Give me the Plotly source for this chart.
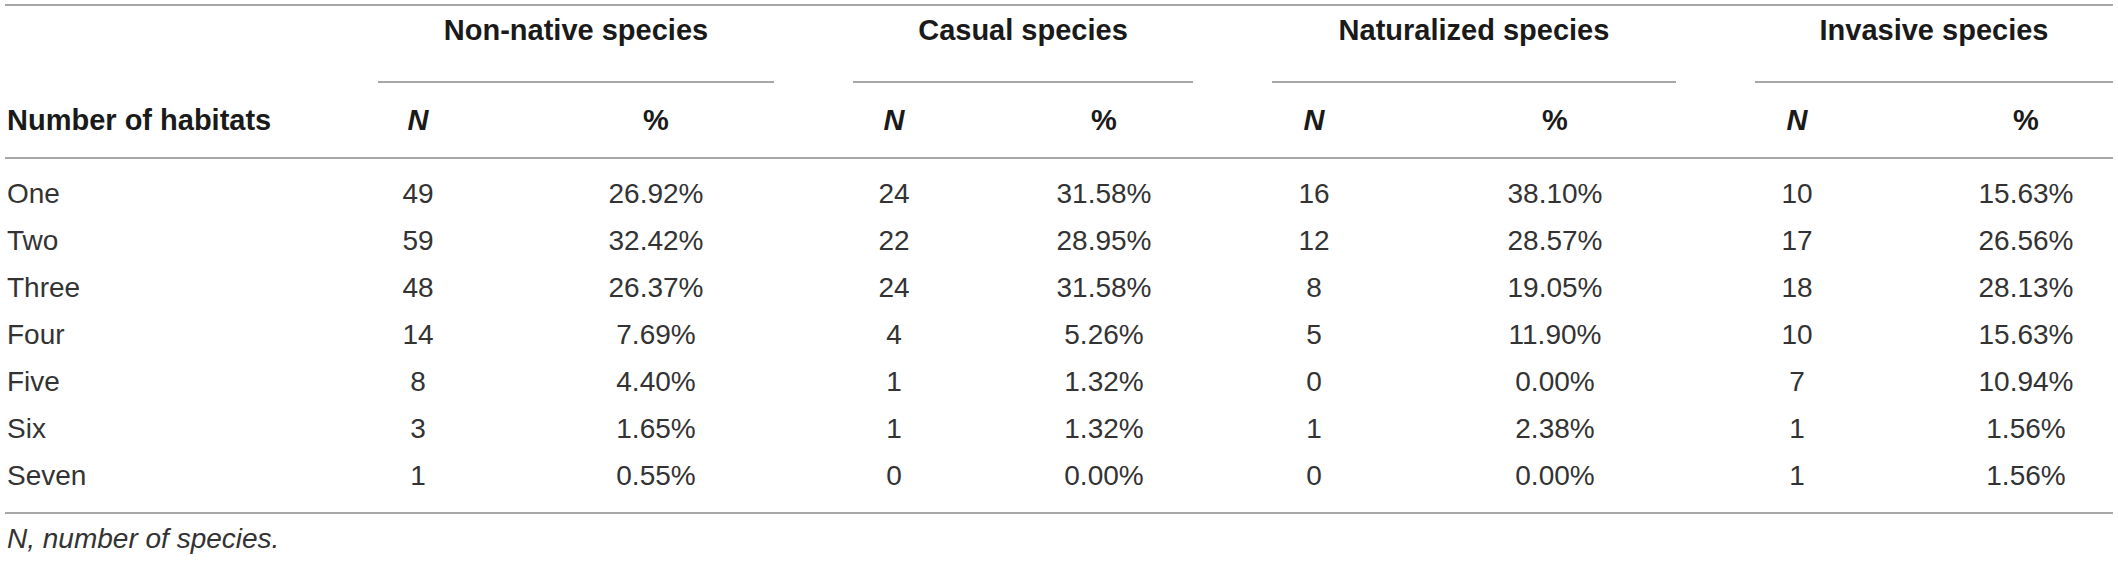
"""
habitats_table.py — Number of habitats occupied by non-native species, drawn as a table.
Output: out.html
"""

import plotly.graph_objects as go

W, H = 2118, 562

HABITATS = ["One", "Two", "Three", "Four", "Five", "Six", "Seven"]
GROUPS = ["Non-native species", "Casual species", "Naturalized species", "Invasive species"]

NONNATIVE_N = [49, 59, 48, 14, 8, 3, 1]
NONNATIVE_PCT = [26.92, 32.42, 26.37, 7.69, 4.40, 1.65, 0.55]
CASUAL_N = [24, 22, 24, 4, 1, 1, 0]
CASUAL_PCT = [31.58, 28.95, 31.58, 5.26, 1.32, 1.32, 0.00]
NATURALIZED_N = [16, 12, 8, 5, 0, 1, 0]
NATURALIZED_PCT = [38.10, 28.57, 19.05, 11.90, 0.00, 2.38, 0.00]
INVASIVE_N = [10, 17, 18, 10, 7, 1, 1]
INVASIVE_PCT = [15.63, 26.56, 28.13, 15.63, 10.94, 1.56, 1.56]

ROW_HEADER = "Number of habitats"
SUB_HEADERS = ["<i>N</i>", "%"]
FOOTNOTE = "<i>N, number of species.</i>"

# layout (pixel units, y grows downwards)
GROUP_X = [576, 1023, 1474, 1934]
N_X = [418, 894, 1314, 1797]
PCT_X = [656, 1104, 1555, 2026]
UNDERLINES = [(378, 774), (853, 1193), (1272, 1676), (1755, 2113)]
Y_TOP, Y_GROUP, Y_UNDER, Y_SUB, Y_HEAD = 5, 33, 82, 123, 158
Y_ROW0, ROW_STEP = 196, 47
Y_BOTTOM, Y_FOOT = 513, 541
LABEL_X = 7

FONT = "Liberation Sans, Arial, Helvetica, sans-serif"
TEXT = "#333333"
BOLD = "#1a1a1a"
RULE = "#8a8a8a"

series = [
    (NONNATIVE_N, NONNATIVE_PCT),
    (CASUAL_N, CASUAL_PCT),
    (NATURALIZED_N, NATURALIZED_PCT),
    (INVASIVE_N, INVASIVE_PCT),
]
row_y = [Y_ROW0 + i * ROW_STEP for i in range(len(HABITATS))]

fig = go.Figure()


def text_trace(x, y, text, size=28, color=TEXT, pos="middle center"):
    fig.add_trace(go.Scatter(
        x=x, y=y, text=text, mode="text", textposition=pos,
        textfont=dict(family=FONT, size=size, color=color),
        cliponaxis=False, hoverinfo="skip", showlegend=False,
    ))


# group headers
text_trace(GROUP_X, [Y_GROUP] * 4, [f"<b>{g}</b>" for g in GROUPS], size=29, color=BOLD)

# sub headers
text_trace([LABEL_X], [Y_SUB], [f"<b>{ROW_HEADER}</b>"], size=29, color=BOLD, pos="middle right")
text_trace(N_X, [Y_SUB] * 4, [f"<b>{SUB_HEADERS[0]}</b>"] * 4, size=29, color=BOLD)
text_trace(PCT_X, [Y_SUB] * 4, [f"<b>{SUB_HEADERS[1]}</b>"] * 4, size=29, color=BOLD)

# row labels
text_trace([LABEL_X] * len(HABITATS), row_y, HABITATS, pos="middle right")

# values
for k, (ns, pcts) in enumerate(series):
    text_trace([N_X[k]] * len(ns), row_y, [str(v) for v in ns])
    text_trace([PCT_X[k]] * len(pcts), row_y, [f"{v:.2f}%" for v in pcts])

# footnote
text_trace([LABEL_X], [Y_FOOT], [FOOTNOTE], pos="middle right")

# rules
for y in (Y_TOP, Y_HEAD, Y_BOTTOM):
    fig.add_shape(type="line", x0=5, x1=2113, y0=y, y1=y,
                  line=dict(color=RULE, width=1.3), xref="x", yref="y")
for x0, x1 in UNDERLINES:
    fig.add_shape(type="line", x0=x0, x1=x1, y0=Y_UNDER, y1=Y_UNDER,
                  line=dict(color=RULE, width=1.3), xref="x", yref="y")

fig.update_layout(
    width=W, height=H,
    margin=dict(l=0, r=0, t=0, b=0),
    paper_bgcolor="white", plot_bgcolor="white",
    xaxis=dict(range=[0, W], visible=False, fixedrange=True),
    yaxis=dict(range=[H, 0], visible=False, fixedrange=True),
)

# drop the default body margin so the figure sits at the window's top-left corner
fig.write_html(
    "out.html",
    config={"displayModeBar": False},
    post_script="document.body.style.margin='0';",
)
